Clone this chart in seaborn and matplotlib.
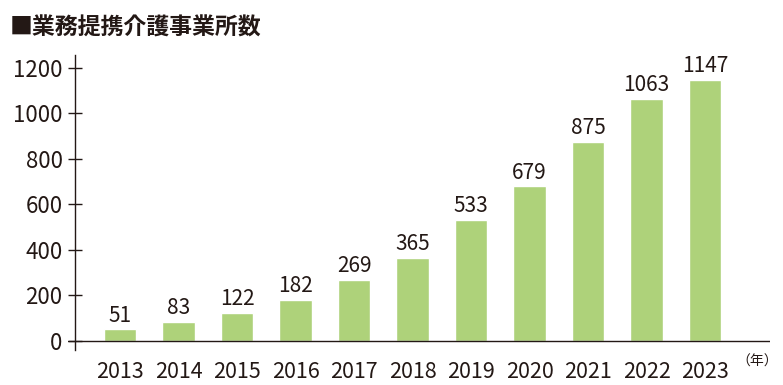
import matplotlib
matplotlib.use("Agg")
import matplotlib.pyplot as plt
import seaborn as sns
import pandas as pd

years = ["2013", "2014", "2015", "2016", "2017", "2018",
         "2019", "2020", "2021", "2022", "2023"]
counts = [51, 83, 122, 182, 269, 365, 533, 679, 875, 1063, 1147]
yticks = [0, 200, 400, 600, 800, 1000, 1200]
title = "■業務提携介護事業所数"
unit = "（年）"

BAR = "#aed27a"
INK = "#231815"

sns.set_style("white")
plt.rcParams["font.family"] = ["Noto Sans CJK JP", "DejaVu Sans"]

df = pd.DataFrame({"year": years, "count": counts})

fig = plt.figure(figsize=(7.83, 3.85), dpi=100)
ax = fig.add_axes([68 / 783, 35 / 385, 702 / 783, 295 / 385])

sns.barplot(data=df, x="year", y="count", color=BAR, saturation=1,
            width=0.56, ax=ax)
for c in ax.containers:
    ax.bar_label(c, padding=2, fontsize=15, color=INK)

ax.set_xlim(-0.89, 11.11)
ax.set_ylim(-40, 1257)
ax.set_yticks(yticks)
ax.set_xlabel("")
ax.set_ylabel("")

for s in ["top", "right", "bottom"]:
    ax.spines[s].set_visible(False)
ax.spines["left"].set_position(("data", -0.77))
ax.spines["left"].set_color(INK)
ax.spines["left"].set_linewidth(1)
ax.axhline(0, color=INK, lw=1, zorder=3)

ax.tick_params(axis="y", direction="inout", length=10, width=1,
               color=INK, labelcolor=INK, labelsize=16, pad=4, left=True)
ax.tick_params(axis="x", length=0, labelcolor=INK, labelsize=15.5, pad=8)

# unit label sits on the same line as the year labels
fig.text(757 / 783, 1 - 362 / 385, unit, fontsize=10, color=INK,
         ha="center", va="center")

fig.text(0.012, 0.927, title, fontsize=16.5, fontweight="bold", color=INK,
         ha="left", va="center")

fig.savefig("out.png", dpi=100)
